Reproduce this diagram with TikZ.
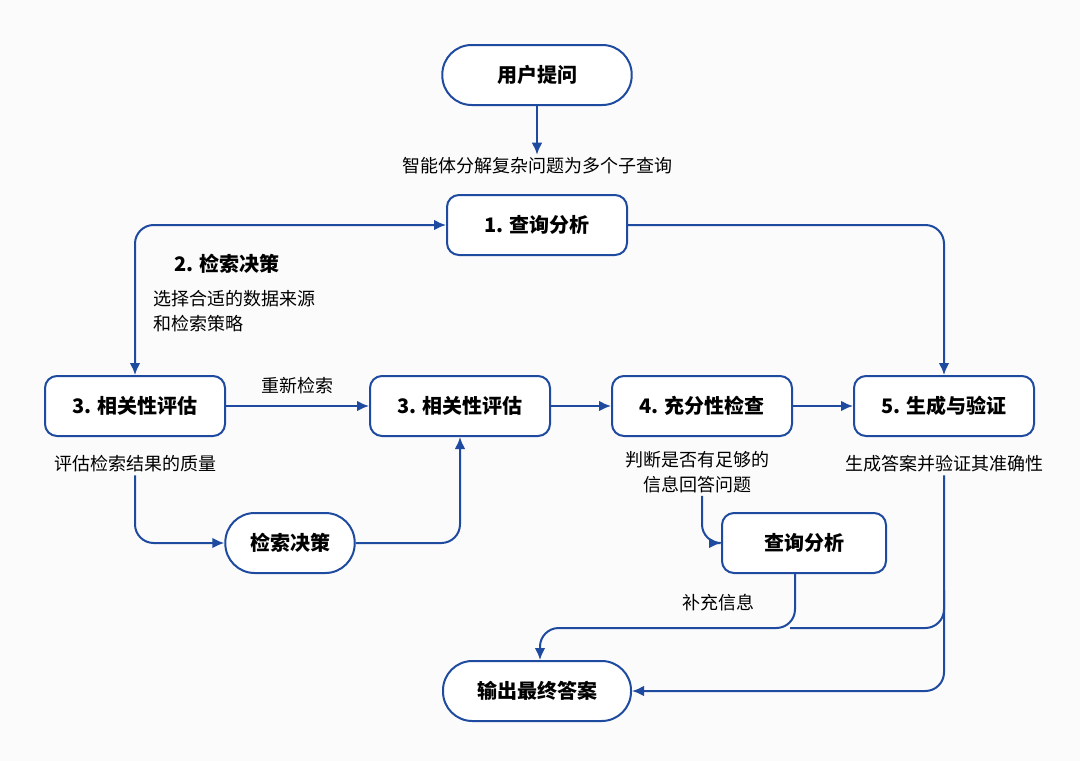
\documentclass[tikz,border=0pt]{standalone}
\usepackage{fontspec}
\setmainfont{Noto Sans CJK SC}
\usetikzlibrary{shapes,arrows.meta,positioning}
\definecolor{flowblue}{HTML}{1E4AA0}
\tikzstyle{line} = [draw=flowblue, line width=1.5pt, -{Latex[length=9pt,width=8pt]}, rounded corners=14pt]
\tikzstyle{block} = [rectangle, draw=flowblue, line width=1.5pt, fill=white,
  rounded corners=9pt, minimum width=135pt, minimum height=45pt, font=\fontsize{15}{17}\selectfont\bfseries]
\tikzstyle{pill} = [rectangle, draw=flowblue, line width=1.5pt, fill=white,
  rounded corners=22pt, minimum height=45pt, font=\fontsize{15}{17}\selectfont\bfseries]
\tikzstyle{note} = [font=\fontsize{13.5}{19}\selectfont, inner sep=2pt]

\begin{document}
\begin{tikzpicture}[x=0.75pt, y=-0.75pt]
  \fill[white!97!gray] (0,0) rectangle (1080,761);

  \node [pill, minimum width=142pt] (ask) at (537,75) {用户提问};
  \node [note] (split) at (537,166) {智能体分解复杂问题为多个子查询};
  \node [block] (query) at (537,225) {1. 查询分析};
  \node [font=\fontsize{15}{17}\selectfont\bfseries] (decide) at (227,264) {2. 检索决策};
  \node [note, align=left, anchor=north west] (source) at (151,287) {选择合适的数据来源\\和检索策略};

  \node [block] (rel1) at (135,406) {3. 相关性评估};
  \node [block] (rel2) at (460,406) {3. 相关性评估};
  \node [block] (enough) at (702,406) {4. 充分性检查};
  \node [block] (gen) at (944,406) {5. 生成与验证};
  \node [note] (retry) at (297,386) {重新检索};

  \node [note] (quality) at (135,464) {评估检索结果的质量};
  \node [note, align=center] (judge) at (697,472) {判断是否有足够的\\信息回答问题};
  \node [note] (verify) at (944,464) {生成答案并验证其准确性};

  \node [pill, minimum width=97pt] (again) at (290,543) {检索决策};
  \node [block, minimum width=123pt] (query2) at (804,543) {查询分析};
  \node [note] (extra) at (718,603) {补充信息};
  \node [pill, minimum width=141pt] (final) at (537,691) {输出最终答案};

  \path [line] (ask) -- (split);
  \path [line, {Latex[length=9pt,width=8pt]}-{Latex[length=9pt,width=8pt]}] (rel1.north) |- (query.west);
  \path [line] (query.east) -| (gen.north);
  \path [line] (rel1) -- (rel2);
  \path [line] (rel2) -- (enough);
  \path [line] (enough) -- (gen);
  \path [line] (quality.south) |- (again.west);
  \path [line] (again.east) -| (rel2.south);
  \path [line] (judge.south -| 702,0) |- (query2.west);
  \path [line] (query2.south -| 795,0) |- (540,628) -- (final.north -| 540,0);
  \path [line] (verify.south) |- (final.east);
  \draw [flowblue, line width=1.5pt, rounded corners=14pt] (944,590) |- (790,628);
\end{tikzpicture}
\end{document}
